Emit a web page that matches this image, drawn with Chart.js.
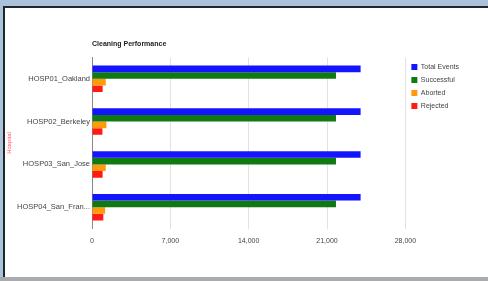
<!DOCTYPE html>
<html>
<head>
<meta charset="utf-8">
<script src="https://cdn.jsdelivr.net/npm/chart.js@4.4.1/dist/chart.umd.min.js"></script>
<style>
    html, body { margin: 0; padding: 0; }
    body { width: 488px; height: 281px; background: #aac2da; position: relative; overflow: hidden; }
    .frame {
        position: absolute; left: 3px; top: 6px; width: 485px; height: 271px;
        background: #ffffff; border-top: 2px solid #1f262c; border-left: 2px solid #1f262c;
        box-sizing: border-box;
    }
    .bottom { position: absolute; left: 0; top: 277px; width: 488px; height: 4px; background: #a9abad; }
    .wrap { position: absolute; left: 0; top: 0; width: 488px; height: 281px; }
</style>
</head>
<body>
<div class="frame"></div>
<div class="bottom"></div>
<div class="wrap"><canvas id="chartCanvas"></canvas></div>
<script>
// Chart data
const hospitals = ['HOSP01_Oakland', 'HOSP02_Berkeley', 'HOSP03_San_Jose', 'HOSP04_San_Francisco'];
const totalEvents = [24000, 24000, 24000, 24000];
const successful = [21800, 21800, 21800, 21800];
const aborted = [1230, 1290, 1230, 1170];
const rejected = [950, 930, 950, 1010];
const xTicks = [0, 7000, 14000, 21000, 28000];

const labelFont = { family: 'Liberation Sans', size: 7 };

const config = {
    type: 'bar',
    data: {
        labels: hospitals,
        datasets: [
            { label: 'Total Events', data: totalEvents, backgroundColor: '#1414ff' },
            { label: 'Successful', data: successful, backgroundColor: '#0f7a12' },
            { label: 'Aborted', data: aborted, backgroundColor: '#ff9a0a' },
            { label: 'Rejected', data: rejected, backgroundColor: '#ff1a14' }
        ]
    },
    options: {
        indexAxis: 'y',
        responsive: true,
        maintainAspectRatio: false,
        animation: false,
        datasets: {
            bar: { barPercentage: 1, categoryPercentage: 0.62 }
        },
        layout: {
            padding: { left: 6, top: 40, right: 19, bottom: 28 }
        },
        plugins: {
            title: {
                display: true,
                text: 'Cleaning Performance',
                align: 'start',
                fullSize: false,
                color: '#222',
                font: { family: 'Liberation Sans', size: 7, weight: 'bold' },
                padding: { top: 0, bottom: 9 }
            },
            legend: {
                position: 'right',
                align: 'start',
                fullSize: false,
                labels: {
                    boxWidth: 6,
                    boxHeight: 6,
                    padding: 6,
                    color: '#444',
                    font: labelFont
                }
            },
            tooltip: { enabled: false }
        },
        scales: {
            x: {
                min: 0,
                max: 28000,
                afterBuildTicks: scale => {
                    scale.ticks = xTicks.map(v => ({ value: v }));
                },
                grid: { color: '#e2e2e2', drawTicks: false },
                border: { display: false },
                ticks: {
                    color: '#444',
                    font: labelFont,
                    padding: 8,
                    callback: v => v.toLocaleString('en-US')
                }
            },
            y: {
                grid: { display: false, drawTicks: false },
                border: { display: true, color: '#888' },
                title: {
                    display: true,
                    text: 'Hospital',
                    color: '#ff5060',
                    font: { family: 'Liberation Sans', size: 6 },
                    padding: { top: 0, bottom: 0 }
                },
                ticks: {
                    color: '#444',
                    font: { family: 'Liberation Sans', size: 7.5 },
                    padding: 2,
                    callback: function (v) {
                        const s = this.getLabelForValue(v);
                        return s.length > 15 ? s.slice(0, 15) + '...' : s;
                    }
                },
                afterFit: scale => { scale.width = 86; }
            }
        }
    }
};

const ctx = document.getElementById('chartCanvas').getContext('2d');
const chart = new Chart(ctx, config);
</script>
</body>
</html>
